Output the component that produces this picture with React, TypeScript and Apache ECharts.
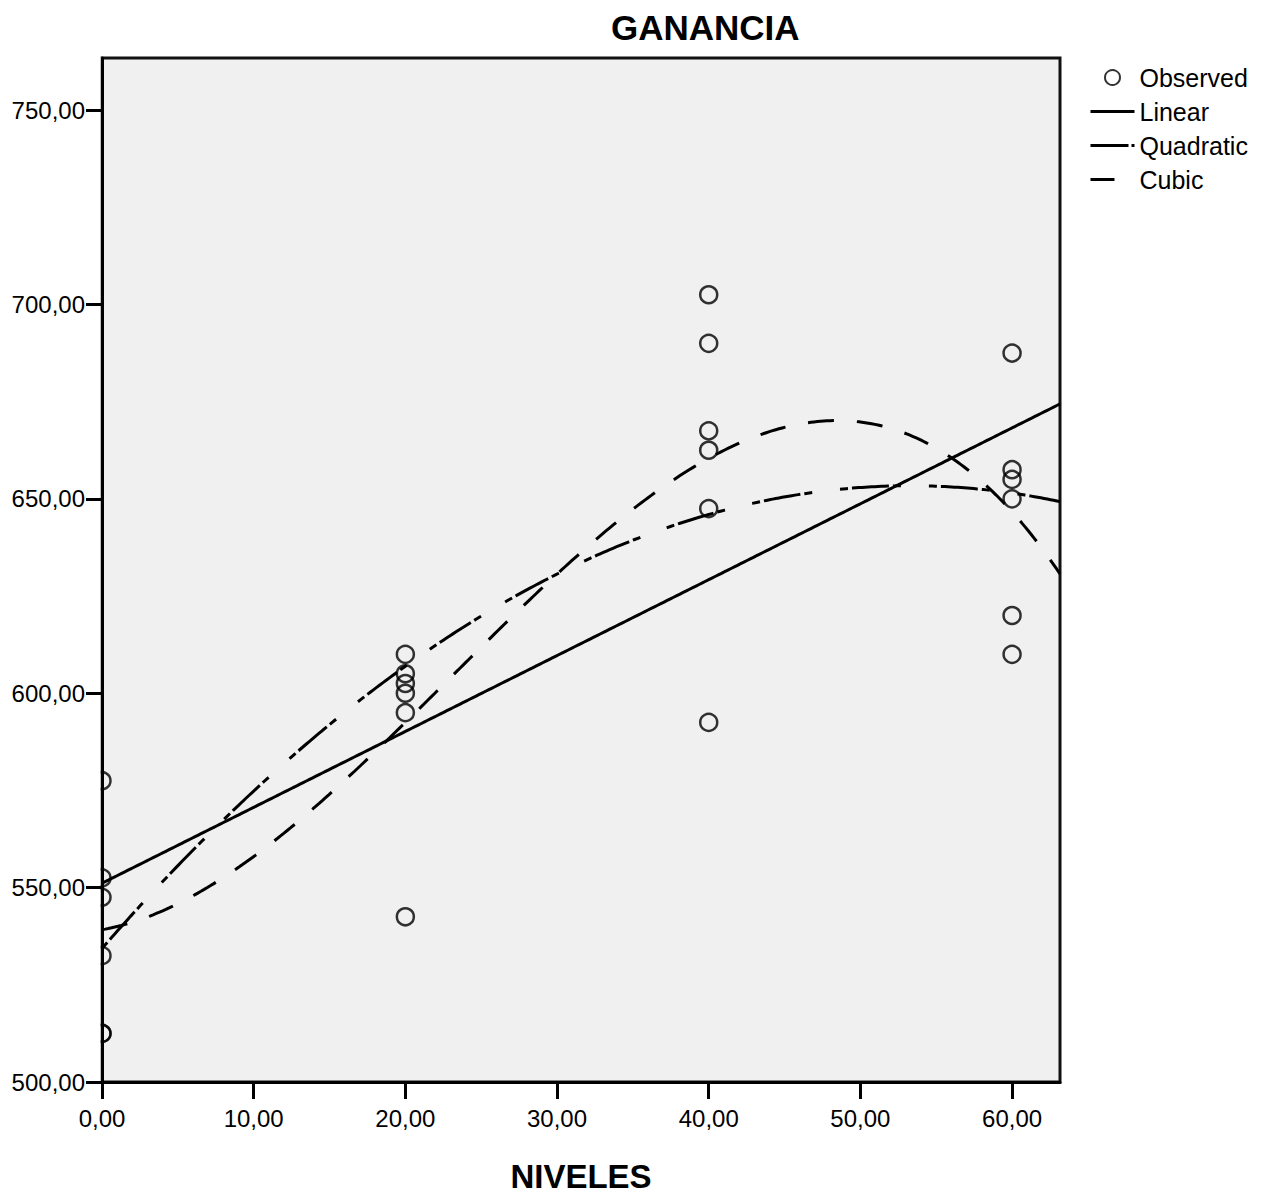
import React, { useEffect, useRef } from 'react';
import * as echarts from 'echarts';

const niveles = [0, 0, 0, 0, 0, 0, 20, 20, 20, 20, 20, 20, 40, 40, 40, 40, 40, 40, 60, 60, 60, 60, 60, 60];
const ganancia = [
  577.5, 552.5, 547.5, 532.5, 512.5, 512.5,
  610, 605, 602.5, 600, 595, 542.5,
  702.5, 690, 667.5, 662.5, 647.5, 592.5,
  687.5, 657.5, 655, 650, 620, 610,
];
const xTicks = [0, 10, 20, 30, 40, 50, 60];
const yTicks = [500, 550, 600, 650, 700, 750];
const seriesNames = ['Observed', 'Linear', 'Quadratic', 'Cubic'];
const X_MIN = 0;
const X_MAX = 63.16;
const Y_MIN = 500;
const Y_MAX = 763.4;

function polyFit(xs: number[], ys: number[], degree: number): number[] {
  const n = degree + 1;
  const A: number[][] = Array.from({ length: n }, () => new Array(n + 1).fill(0));
  for (let i = 0; i < xs.length; i++) {
    const x = xs[i] / 10;
    for (let r = 0; r < n; r++) {
      for (let c = 0; c < n; c++) A[r][c] += Math.pow(x, r + c);
      A[r][n] += Math.pow(x, r) * ys[i];
    }
  }
  for (let col = 0; col < n; col++) {
    let piv = col;
    for (let r = col + 1; r < n; r++) if (Math.abs(A[r][col]) > Math.abs(A[piv][col])) piv = r;
    const tmp = A[col]; A[col] = A[piv]; A[piv] = tmp;
    for (let r = 0; r < n; r++) {
      if (r === col) continue;
      const f = A[r][col] / A[col][col];
      for (let c = col; c <= n; c++) A[r][c] -= f * A[col][c];
    }
  }
  return A.map((row, i) => row[n] / row[i]);
}

function fitCurve(degree: number): number[][] {
  const coef = polyFit(niveles, ganancia, degree);
  const pts: number[][] = [];
  const steps = 300;
  for (let i = 0; i <= steps; i++) {
    const x = X_MIN + (X_MAX - X_MIN) * (i / steps);
    const xs = x / 10;
    let y = 0;
    for (let k = 0; k < coef.length; k++) y += coef[k] * Math.pow(xs, k);
    pts.push([x, y]);
  }
  return pts;
}

const FONT = 'Liberation Sans, Arial, sans-serif';
const fmt = (v: number) => v.toFixed(2).replace('.', ',');
const noSymbol = { color: 'rgba(0,0,0,0)', borderWidth: 0, opacity: 0 };

export default function App() {
  const ref = useRef<HTMLDivElement>(null);
  useEffect(() => {
    if (!ref.current) return;
    const chart = echarts.init(ref.current, null, { renderer: 'svg' });
    const lineBase = { type: 'line', symbol: 'none', showSymbol: false, itemStyle: { color: '#000' }, z: 4 };
    chart.setOption({
      animation: false,
      backgroundColor: '#fff',
      title: {
        text: 'GANANCIA',
        left: 606,
        top: 5,
        textStyle: { fontSize: 35, fontWeight: 'bold', fontFamily: FONT, color: '#000' },
      },
      legend: {
        orient: 'vertical',
        left: 1084,
        top: 60,
        itemWidth: 44,
        itemHeight: 15,
        itemGap: 9,
        textStyle: { fontSize: 25, fontFamily: FONT, color: '#000' },
        data: [
          { name: seriesNames[0] },
          { name: seriesNames[1], itemStyle: noSymbol, lineStyle: { color: '#000', width: 3, type: 'solid' } },
          { name: seriesNames[2], itemStyle: noSymbol, lineStyle: { color: '#000', width: 3, type: [38, 3, 3, 20] } },
          { name: seriesNames[3], itemStyle: noSymbol, lineStyle: { color: '#000', width: 3, type: [24, 30] } },
        ],
      },
      grid: {
        left: 102,
        top: 58,
        width: 958,
        height: 1024,
        show: true,
        backgroundColor: '#f0f0f0',
        borderColor: '#111',
        borderWidth: 3,
        outerBoundsMode: 'none',
        containLabel: false,
      },
      graphic: [
        {
          type: 'rect',
          left: 0,
          top: 50,
          shape: { width: 100.5, height: 1031 },
          style: { fill: '#fff' },
          z: 6,
        },
      ],
      xAxis: {
        type: 'value',
        min: X_MIN,
        max: X_MAX,
        z: 10,
        name: 'NIVELES',
        nameLocation: 'middle',
        nameGap: 78,
        nameTextStyle: { fontSize: 33, fontWeight: 'bold', fontFamily: FONT, color: '#000' },
        axisLine: { lineStyle: { color: '#000', width: 3 } },
        axisTick: { length: 17, lineStyle: { color: '#000', width: 3 }, customValues: xTicks },
        axisLabel: { customValues: xTicks, fontSize: 24, fontFamily: FONT, color: '#000', margin: 24, formatter: (v: number) => fmt(v) },
        splitLine: { show: false },
      },
      yAxis: {
        type: 'value',
        min: Y_MIN,
        max: Y_MAX,
        z: 10,
        axisLine: { lineStyle: { color: '#000', width: 3 } },
        axisTick: { length: 16, lineStyle: { color: '#000', width: 3 }, customValues: yTicks },
        axisLabel: { customValues: yTicks, fontSize: 24, fontFamily: FONT, color: '#000', margin: 17, formatter: (v: number) => fmt(v) },
        splitLine: { show: false },
      },
      series: [
        {
          name: seriesNames[0],
          type: 'scatter',
          symbol: 'circle',
          symbolSize: 17,
          itemStyle: { color: 'rgba(0,0,0,0)', borderColor: '#000', borderWidth: 2.5 },
          data: niveles.map((x, i) => [x, ganancia[i]]),
          z: 5,
        },
        { ...lineBase, name: seriesNames[1], data: fitCurve(1), lineStyle: { color: '#000', width: 3, type: 'solid' } },
        { ...lineBase, name: seriesNames[2], data: fitCurve(2), lineStyle: { color: '#000', width: 3, type: [8, 4, 37, 4, 8, 28] } },
        { ...lineBase, name: seriesNames[3], data: fitCurve(3), lineStyle: { color: '#000', width: 3, type: [26, 23] } },
      ],
    });
    return () => chart.dispose();
  }, []);
  return <div ref={ref} style={{ position: 'absolute', left: 0, top: 0, width: 1266, height: 1196 }} />;
}
